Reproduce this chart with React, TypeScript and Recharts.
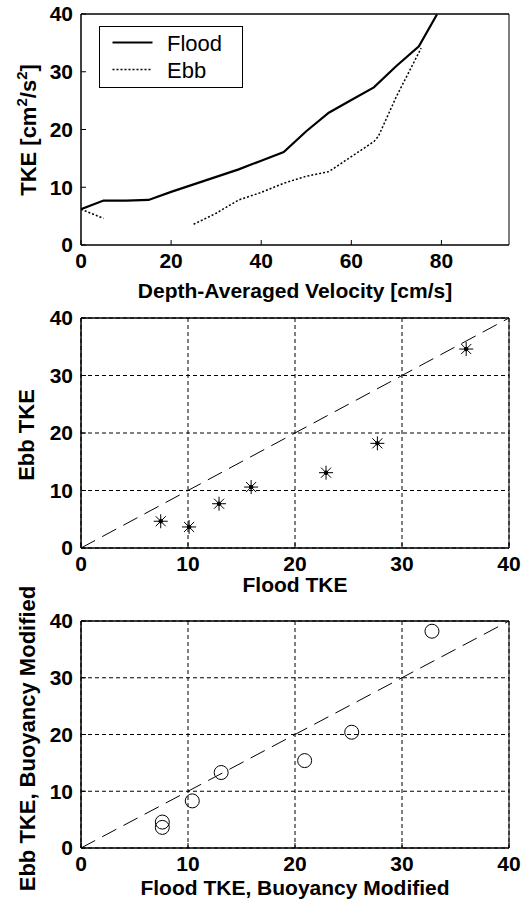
import React from 'react';
import { LineChart, Line, XAxis, YAxis, Legend, ComposedChart, Scatter, CartesianGrid } from 'recharts';

// ---- Panel 1: TKE vs depth-averaged velocity ----
const floodVelocity = [0, 5, 10, 15, 20, 25, 30, 35, 40, 45, 50, 55, 60, 65, 70, 75, 79];
const floodTke = [6.2, 7.7, 7.7, 7.8, 9.2, 10.5, 11.8, 13.1, 14.6, 16.1, 19.7, 22.9, 25.1, 27.3, 31.0, 34.4, 39.9];
const ebbVelocity = [0, 5, 15, 25, 30, 35, 40, 45, 50, 55, 60, 65, 66, 70, 75.5];
const ebbTke: (number | null)[] = [6.2, 4.6, null, 3.6, 5.5, 7.8, 9.1, 10.7, 11.9, 12.7, 15.3, 17.9, 18.8, 25.7, 34.1];
const velocityTicks = [0, 20, 40, 60, 80];
const velocityDomain = [0, 95];
const tkeTicks = [0, 10, 20, 30, 40];
const tkeDomain = [0, 40];
const seriesOrder = ['Flood', 'Ebb'];

// ---- Panel 2: Ebb TKE vs Flood TKE ----
const floodTkeObs = [7.45, 10.1, 12.9, 15.9, 22.9, 27.7, 36.0];
const ebbTkeObs = [4.65, 3.66, 7.7, 10.6, 13.1, 18.2, 34.6];

// ---- Panel 3: buoyancy modified ----
const floodTkeBuoy = [7.6, 7.6, 10.4, 13.1, 20.9, 25.3, 32.8];
const ebbTkeBuoy = [4.57, 3.63, 8.3, 13.3, 15.4, 20.4, 38.2];

// 1:1 reference line
const oneToOne = [0, 40];

const FONT = 'Liberation Sans, Arial, Helvetica, sans-serif';

const floodData = floodVelocity.map((v, i) => ({ v, tke: floodTke[i] }));
const ebbData = ebbVelocity.map((v, i) => ({ v, tke: ebbTke[i] }));
const starData = floodTkeObs.map((x, i) => ({ x, y: ebbTkeObs[i] }));
const circleData = floodTkeBuoy.map((x, i) => ({ x, y: ebbTkeBuoy[i] }));
const diagData = oneToOne.map((x) => ({ x, y: x }));

const tickStyle = { fill: '#000', fontSize: 21, fontWeight: 'bold', fontFamily: FONT };
const axisLineStyle = { stroke: '#000', strokeWidth: 1.5 };
const tickLineStyle = { stroke: '#000', strokeWidth: 1 };

const legendMeta: Record<string, { dash?: string; width: number }> = {
  Flood: { dash: undefined, width: 2 },
  Ebb: { dash: '2 2', width: 1.5 },
};

const renderLegend = (props: any) => {
  const payload = [...(props.payload || [])].sort(
    (a: any, b: any) => seriesOrder.indexOf(a.value) - seriesOrder.indexOf(b.value)
  );
  return (
    <div style={{ width: 144, height: 62, border: '1.5px solid #000', background: '#fff', boxSizing: 'border-box' }}>
      <svg width={141} height={59} style={{ display: 'block' }}>
        {payload.map((entry: any, i: number) => (
          <g key={entry.value}>
            <line x1={12.5} x2={52.5} y1={15.5 + i * 27} y2={15.5 + i * 27} stroke="#000"
              strokeWidth={legendMeta[entry.value]?.width ?? 1.5} strokeDasharray={legendMeta[entry.value]?.dash} />
            <text x={67} y={23.5 + i * 27.5} fontSize={22} fontFamily={FONT} fill="#000">{entry.value}</text>
          </g>
        ))}
      </svg>
    </div>
  );
};

const YLabel = (props: any) => {
  const vb = props.viewBox || { x: 0, y: 0, width: 81, height: 200 };
  const x = vb.x + vb.width / 2 + (props.dxOff || 0);
  const y = vb.y + vb.height / 2 + (props.dyOff || 0);
  return (
    <text x={x} y={y} transform={`rotate(-90, ${x}, ${y})`} textAnchor="middle" dy="0.36em"
      fontSize={22} fontWeight="bold" fontFamily={FONT} fill="#000">
      {props.sup ? (
        <>
          <tspan>TKE [cm</tspan>
          <tspan fontSize={15} dy={-9}>2</tspan>
          <tspan dy={9}>/s</tspan>
          <tspan fontSize={15} dy={-9}>2</tspan>
          <tspan dy={9}>]</tspan>
        </>
      ) : (
        props.text
      )}
    </text>
  );
};

const Star = (props: any) => {
  const { cx, cy } = props;
  const r = 7;
  const d = r * 0.72;
  return (
    <g stroke="#000" strokeWidth={1}>
      <line x1={cx - r} y1={cy} x2={cx + r} y2={cy} />
      <line x1={cx} y1={cy - r} x2={cx} y2={cy + r} />
      <line x1={cx - d} y1={cy - d} x2={cx + d} y2={cy + d} />
      <line x1={cx - d} y1={cy + d} x2={cx + d} y2={cy - d} />
      <circle cx={cx} cy={cy} r={1.8} fill="#000" />
    </g>
  );
};

const Ring = (props: any) => {
  const { cx, cy } = props;
  return <circle cx={cx} cy={cy} r={7} fill="none" stroke="#000" strokeWidth={1} />;
};

const frameAxes = (domain: number[], ticks: number[]) => [
  <XAxis key="top" xAxisId="top" orientation="top" type="number" dataKey="x" domain={domain} ticks={ticks}
    allowDataOverflow height={1} tick={false} tickSize={-5} axisLine={axisLineStyle} tickLine={tickLineStyle} />,
  <YAxis key="right" yAxisId="right" orientation="right" type="number" domain={tkeDomain} ticks={tkeTicks}
    allowDataOverflow width={1} tick={false} tickSize={-5} axisLine={{ stroke: '#000', strokeWidth: 1 }} tickLine={tickLineStyle} />,
];

const ScatterPanel = (p: { data: any[]; shape: any; height: number; top: number; axisH: number; xLabel: string; yLabel: string; labelOffset: number; yDx: number; yDy: number }) => (
  <ComposedChart width={531} height={p.height} margin={{ top: p.top, right: 21, bottom: 0, left: 0 }}>
    <CartesianGrid stroke="#000" strokeWidth={1} strokeDasharray="4 3" />
    <XAxis dataKey="x" type="number" domain={tkeDomain} ticks={tkeTicks} allowDataOverflow height={p.axisH}
      tick={tickStyle} tickSize={-5} tickMargin={13} axisLine={axisLineStyle} tickLine={tickLineStyle}
      label={{ value: p.xLabel, position: 'insideBottom', offset: p.labelOffset, fill: '#000', fontSize: 21, fontWeight: 'bold', fontFamily: FONT }} />
    <YAxis dataKey="y" type="number" domain={tkeDomain} ticks={tkeTicks} allowDataOverflow width={81}
      tick={tickStyle} tickSize={-5} tickMargin={13} axisLine={axisLineStyle} tickLine={tickLineStyle}
      label={{ content: (lp: any) => <YLabel {...lp} text={p.yLabel} dxOff={p.yDx} dyOff={p.yDy} /> }} />
    {frameAxes(tkeDomain, tkeTicks)}
    <Line data={diagData} dataKey="y" stroke="#000" strokeWidth={1} strokeDasharray="16 8" dot={false}
      isAnimationActive={false} legendType="none" />
    <Scatter data={p.data} dataKey="y" shape={p.shape} isAnimationActive={false} />
  </ComposedChart>
);

export default function App() {
  return (
    <div style={{ position: 'absolute', left: 0, top: 0, width: 531, height: 909, background: '#fff' }}>
      <div style={{ position: 'absolute', left: 0, top: 0 }}>
        <LineChart width={531} height={304} margin={{ top: 13, right: 21, bottom: 0, left: 0 }}>
          <XAxis dataKey="v" type="number" domain={velocityDomain} ticks={velocityTicks} allowDataOverflow height={59}
            tick={tickStyle} tickSize={-5} tickMargin={13} axisLine={axisLineStyle} tickLine={tickLineStyle}
            label={{ value: 'Depth-Averaged Velocity [cm/s]', position: 'insideBottom', offset: 6.5, fill: '#000', fontSize: 21, fontWeight: 'bold', fontFamily: FONT }} />
          <YAxis type="number" domain={tkeDomain} ticks={tkeTicks} allowDataOverflow width={81}
            tick={tickStyle} tickSize={-5} tickMargin={13} axisLine={axisLineStyle} tickLine={tickLineStyle}
            label={{ content: (lp: any) => <YLabel {...lp} sup dxOff={-12} dyOff={0.5} /> }} />
          <XAxis xAxisId="top" orientation="top" type="number" dataKey="v" domain={velocityDomain} ticks={velocityTicks}
            allowDataOverflow height={1} tick={false} tickSize={-5} axisLine={axisLineStyle} tickLine={tickLineStyle} />
          <YAxis yAxisId="right" orientation="right" type="number" domain={tkeDomain} ticks={tkeTicks}
            allowDataOverflow width={1} tick={false} tickSize={-5} axisLine={{ stroke: '#000', strokeWidth: 1 }} tickLine={tickLineStyle} />
          <Line name="Flood" data={floodData} dataKey="tke" stroke="#000" strokeWidth={2.2} dot={false} isAnimationActive={false} />
          <Line name="Ebb" data={ebbData} dataKey="tke" stroke="#000" strokeWidth={1.5} strokeDasharray="2 2" dot={false}
            connectNulls={false} isAnimationActive={false} />
          <Legend layout="vertical" align="center" verticalAlign="middle" content={renderLegend}
            wrapperStyle={{ left: 99, top: 26, width: 144, height: 62 }} />
        </LineChart>
      </div>
      <div style={{ position: 'absolute', left: 0, top: 300 }}>
        <ScatterPanel data={starData} shape={Star} height={304} top={17} axisH={56} xLabel="Flood TKE" yLabel="Ebb TKE"
          labelOffset={12} yDx={-14.5} yDy={2} />
      </div>
      <div style={{ position: 'absolute', left: 0, top: 570 }}>
        <ScatterPanel data={circleData} shape={Ring} height={339} top={50} axisH={61} xLabel="Flood TKE, Buoyancy Modified"
          yLabel="Ebb TKE, Buoyancy Modified" labelOffset={14} yDx={-13.5} yDy={4} />
      </div>
    </div>
  );
}
